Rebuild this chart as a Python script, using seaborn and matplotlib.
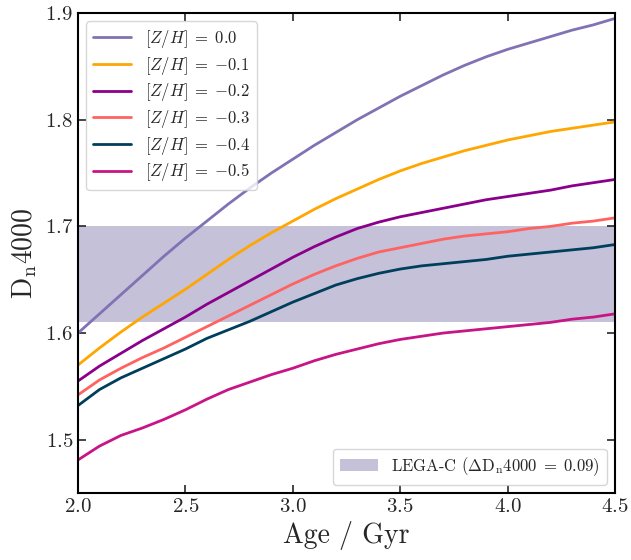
import numpy as np
import pandas as pd
import matplotlib
matplotlib.use('Agg')
import matplotlib.pyplot as plt
import seaborn as sns

AGES = [2.0, 2.1, 2.2, 2.3, 2.4, 2.5, 2.6, 2.7, 2.8, 2.9, 3.0, 3.1, 3.2,
        3.3, 3.4, 3.5, 3.6, 3.7, 3.8, 3.9, 4.0, 4.1, 4.2, 4.3, 4.4, 4.5]

DN_00 = [1.600, 1.618, 1.636, 1.654, 1.672, 1.689, 1.705, 1.721, 1.736, 1.750, 1.763, 1.776, 1.788,
         1.800, 1.811, 1.822, 1.832, 1.842, 1.851, 1.859, 1.866, 1.872, 1.878, 1.884, 1.889, 1.895]
DN_01 = [1.570, 1.586, 1.601, 1.615, 1.628, 1.641, 1.655, 1.669, 1.682, 1.694, 1.705, 1.716, 1.726,
         1.735, 1.744, 1.752, 1.759, 1.765, 1.771, 1.776, 1.781, 1.785, 1.789, 1.792, 1.795, 1.798]
DN_02 = [1.555, 1.569, 1.581, 1.593, 1.604, 1.615, 1.627, 1.638, 1.649, 1.660, 1.671, 1.681, 1.690,
         1.698, 1.704, 1.709, 1.713, 1.717, 1.721, 1.725, 1.728, 1.731, 1.734, 1.738, 1.741, 1.744]
DN_03 = [1.542, 1.556, 1.567, 1.577, 1.586, 1.596, 1.606, 1.616, 1.626, 1.636, 1.646, 1.655, 1.663,
         1.670, 1.676, 1.680, 1.684, 1.688, 1.691, 1.693, 1.695, 1.698, 1.700, 1.703, 1.705, 1.708]
DN_04 = [1.532, 1.547, 1.558, 1.567, 1.576, 1.585, 1.595, 1.603, 1.611, 1.620, 1.629, 1.637, 1.645,
         1.651, 1.656, 1.660, 1.663, 1.665, 1.667, 1.669, 1.672, 1.674, 1.676, 1.678, 1.680, 1.683]
DN_05 = [1.481, 1.494, 1.504, 1.511, 1.519, 1.528, 1.538, 1.547, 1.554, 1.561, 1.567, 1.574, 1.580,
         1.585, 1.590, 1.594, 1.597, 1.600, 1.602, 1.604, 1.606, 1.608, 1.610, 1.613, 1.615, 1.618]

METALLICITIES = ['0.0', '-0.1', '-0.2', '-0.3', '-0.4', '-0.5']
COLORS = ['#8172b3', '#ffa600', '#8b008b', '#ff6361', '#003f5c', '#c71585']

LEGAC_LOW = 1.61
LEGAC_HIGH = 1.70
LEGAC_LABEL = r'LEGA-C ($\Delta\mathrm{D_n}4000\;=\;0.09$)'

# long-form table for seaborn
series = [DN_00, DN_01, DN_02, DN_03, DN_04, DN_05]
labels = [r'$[Z/H]\;=\;{%s}$' % m for m in METALLICITIES]
df = pd.DataFrame({
    'age': AGES * len(series),
    'dn': np.concatenate(series),
    'zh': np.repeat(labels, len(AGES)),
})

sns.set_style('ticks')
plt.rcParams['font.family'] = ['serif']
plt.rcParams['font.serif'] = ['cmr10', 'DejaVu Serif']
plt.rcParams['mathtext.fontset'] = 'cm'
plt.rcParams['axes.formatter.use_mathtext'] = True
plt.rcParams['axes.unicode_minus'] = True

fig = plt.figure(figsize=(6.31, 5.6), dpi=100)
ax = fig.add_axes([0.1236, 0.1196, 0.851, 0.857])

band = ax.axhspan(LEGAC_LOW, LEGAC_HIGH, color='#c4c1d9', lw=0, zorder=0, label=LEGAC_LABEL)

sns.lineplot(data=df, x='age', y='dn', hue='zh', hue_order=labels,
             palette=COLORS, lw=2, ax=ax, legend=True)

ax.set_xlim(2.0, 4.5)
ax.set_ylim(1.45, 1.9)
ax.set_xticks([2.0, 2.5, 3.0, 3.5, 4.0, 4.5])
ax.set_yticks([1.5, 1.6, 1.7, 1.8, 1.9])
ax.set_xlabel('Age / Gyr', fontsize=20)
ax.set_ylabel(r'D$_\mathrm{n}$4000', fontsize=20)
ax.tick_params(direction='in', top=True, right=True, length=6, width=1.2, labelsize=15)
for s in ax.spines.values():
    s.set_linewidth(1.5)
    s.set_color('black')

handles, labs = ax.get_legend_handles_labels()
line_h = [h for h, l in zip(handles, labs) if l in labels]
line_l = [l for l in labs if l in labels]
leg1 = ax.legend(line_h, line_l, loc='upper left', fontsize=12, handlelength=2.3,
                 handletextpad=0.8, labelspacing=0.28)
ax.add_artist(leg1)
ax.legend([band], [LEGAC_LABEL], loc='lower right', fontsize=12, handlelength=2.3,
          handletextpad=0.8)

fig.savefig('out.png', dpi=100)
